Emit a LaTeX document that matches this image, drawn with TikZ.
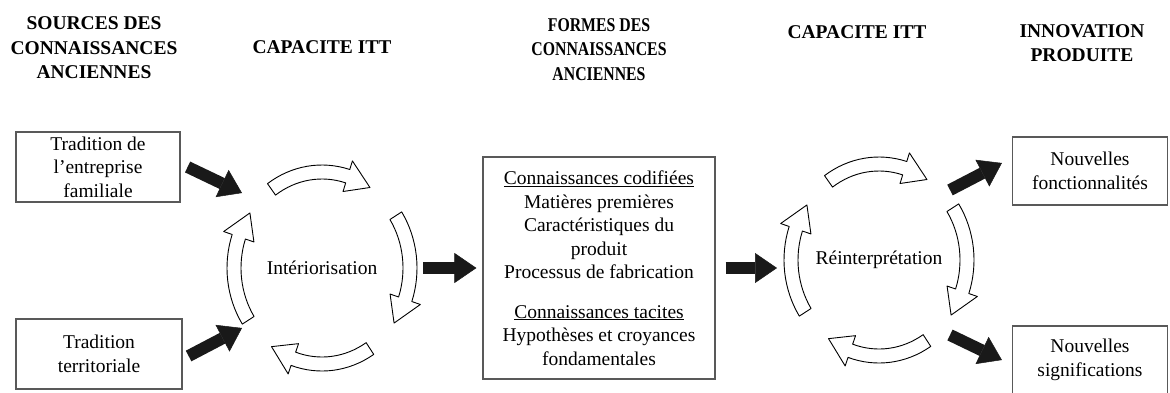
\documentclass[tikz,border=0pt]{standalone}
\usepackage{fontspec}
\setmainfont{Liberation Serif}
\usetikzlibrary{arrows.meta}

\tikzset{
  hdr/.style={font=\fontsize{19.5}{24.5}\selectfont\bfseries, align=center, inner sep=0pt},
  box/.style={draw=black!65, line width=1.2pt, align=center, inner sep=0pt, font=\fontsize{19.5}{23.5}\selectfont},
  cyctext/.style={font=\fontsize{19.5}{23.5}\selectfont, inner sep=0pt},
  cycarr/.style={draw=black, line width=0.9pt, fill=white, line join=round},
  bigarrow/.style={line width=12pt, draw=black!90, -{Triangle[length=22pt, width=30pt, line width=0.5pt]}},
}

% hollow curved arrow around a centre node, #2 = tail angle
\newcommand{\cycarrow}[2]{%
  \draw[cycarr] ([shift={(#1)}]#2:95 and 103)
    arc[start angle=#2, end angle=#2+52, x radius=95, y radius=103]
    -- ([shift={(#1)}]#2+52:104 and 112)
    -- ([shift={(#1)}]#2+68:88 and 96)
    -- ([shift={(#1)}]#2+52:72 and 80)
    -- ([shift={(#1)}]#2+52:81 and 89)
    arc[start angle=#2+52, end angle=#2, x radius=81, y radius=89]
    -- cycle;}

\begin{document}
\begin{tikzpicture}[x=1pt, y=-1pt]
  \useasboundingbox (0,0) rectangle (1170,392);

  % headers
  \node[hdr] (hsrc) at (94,48) {SOURCES DES\\CONNAISSANCES\\ANCIENNES};
  \node[hdr] (hitt1) at (322,47) {CAPACITE ITT};
  \node[hdr] (hform) at (599,51) {\scalebox{0.81}[1]{\begin{tabular}{@{}c@{}}FORMES DES\\CONNAISSANCES\\ANCIENNES\end{tabular}}};
  \node[hdr] (hitt2) at (857,32) {CAPACITE ITT};
  \node[hdr] (hinno) at (1082,43) {INNOVATION\\PRODUITE};

  % sources
  \node[box, minimum width=164pt, minimum height=70pt] (famille) at (98,167) {Tradition de\\l'entreprise\\familiale};
  \node[box, minimum width=166pt, minimum height=70pt] (territoire) at (99,354) {Tradition\\territoriale};

  % first cycle
  \node[cyctext] (interior) at (322,268) {Intériorisation};
  \cycarrow{interior}{-125}
  \cycarrow{interior}{-33}
  \cycarrow{interior}{57}
  \cycarrow{interior}{147}

  % forms of knowledge
  \node[box, minimum width=232pt, minimum height=222pt] (formes) at (599,268) {\underline{Connaissances codifiées}\\Matières premières\\Caractéristiques du\\produit\\Processus de fabrication\\[16pt]\underline{Connaissances tacites}\\Hypothèses et croyances\\fondamentales};

  % second cycle
  \node[cyctext] (reinterp) at (879,260) {Réinterprétation};
  \cycarrow{reinterp}{-125}
  \cycarrow{reinterp}{-33}
  \cycarrow{reinterp}{57}
  \cycarrow{reinterp}{147}

  % outcomes
  \node[box, minimum width=155pt, minimum height=68pt] (fonct) at (1090,171) {Nouvelles\\fonctionnalités};
  \node[box, minimum width=155pt, minimum height=68pt] (signif) at (1090,360) {Nouvelles\\significations};

  % black arrows
  \draw[bigarrow] ([shift={(7,0)}]famille.east) -- ([shift={(-80,-75)}]interior.center);
  \draw[bigarrow] ([shift={(6,2)}]territoire.east) -- ([shift={(-80,60)}]interior.center);
  \draw[bigarrow] ([shift={(101,0)}]interior.center) -- ([shift={(-6,0)}]formes.west);
  \draw[bigarrow] ([shift={(10,0)}]formes.east) -- ([shift={(-102,8)}]reinterp.center);
  \draw[bigarrow] ([shift={(71,-70)}]reinterp.center) -- ([shift={(-10,-8)}]fonct.west);
  \draw[bigarrow] ([shift={(71,75)}]reinterp.center) -- ([shift={(-10,0)}]signif.west);
\end{tikzpicture}
\end{document}
